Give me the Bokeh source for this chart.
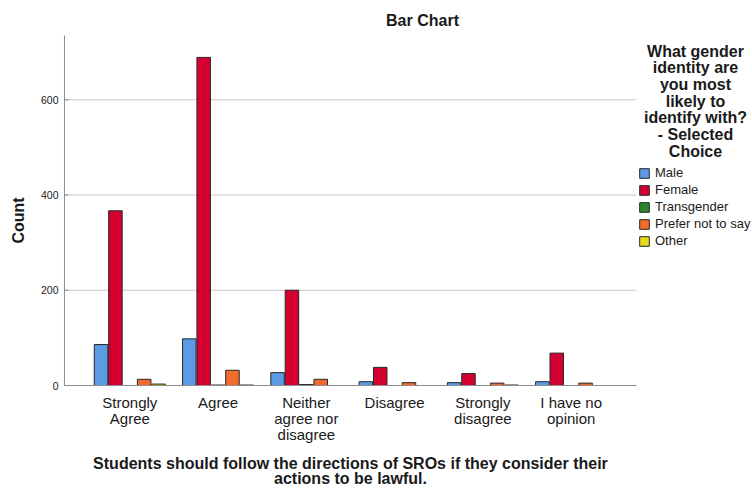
import math
from bokeh.plotting import figure
from bokeh.models import Range1d, Legend, LegendItem, ColumnDataSource
from bokeh.transform import dodge
from bokeh.core.properties import value
from bokeh.embed import file_html
from bokeh.resources import INLINE

# ---- data ----
categories = ["Strongly Agree", "Agree", "Neither agree nor disagree",
              "Disagree", "Strongly disagree", "I have no opinion"]
tick_labels = ["Strongly\nAgree", "Agree", "Neither\nagree nor\ndisagree",
               "Disagree", "Strongly\ndisagree", "I have no\nopinion"]
series_names = ["Male", "Female", "Transgender", "Prefer not to say", "Other"]
male = [86, 98, 27, 8, 6, 8]
female = [367, 689, 200, 38, 25, 68]
transgender = [0, 1, 2, 0, 0, 0]
prefer_not = [13, 32, 13, 6, 5, 5]
other = [3, 1, 0, 0, 1, 0]
y_ticks = [0, 200, 400, 600]
y_tick_labels = ["0", "200", "400", "600"]

colors = ["#5b9be6", "#d50032", "#2a872a", "#f26b2c", "#e6dc1c"]
FONT = "Liberation Sans"
TXT = "#1a1a1a"
AXIS_COL = "#8c8c8c"
GRID_COL = "#c6c6c6"

W, H = 752, 489
XS, XE = -1.4648, 7.0545    # data range across the whole canvas
YS, YE = -218.4, 808.5
X_LEFT, X_RIGHT, Y_TOP = -0.74, 5.74, 735   # plotting region in data units


def X(px):  # canvas pixel -> data x (for placing annotations)
    return XS + px * (XE - XS) / W


def Y(py):  # canvas pixel -> data y
    return YE - py * (YE - YS) / H


xpos = list(range(len(categories)))
source = ColumnDataSource(dict(x=xpos, cat=categories, label=tick_labels,
                               male=male, female=female, transgender=transgender,
                               prefer_not=prefer_not, other=other))
fields = ["male", "female", "transgender", "prefer_not", "other"]

p = figure(width=W, height=H, output_backend="svg", toolbar_location=None,
           title=None, x_axis_location=None, y_axis_location=None,
           x_range=Range1d(XS, XE), y_range=Range1d(YS, YE),
           min_border=0)
p.outline_line_color = None
p.background_fill_color = "white"
p.border_fill_color = "white"
p.xgrid.visible = False
p.ygrid.visible = False

# grid lines
grid_src = ColumnDataSource(dict(y=y_ticks[1:]))
p.segment(x0=X_LEFT, x1=X_RIGHT, y0="y", y1="y", source=grid_src,
          line_color=GRID_COL, line_width=1)

# bars
step = 0.163
bar_w = 0.153
renderers = []
for i, (f, col) in enumerate(zip(fields, colors)):
    r = p.vbar(x=dodge("x", (i - 2) * step, range=p.x_range), top=f, width=bar_w,
               source=source, fill_color=col, line_color="#262626", line_width=1)
    renderers.append(r)

# axis lines
p.segment(x0=[X_LEFT], x1=[X_LEFT], y0=[0], y1=[Y_TOP], line_color=AXIS_COL, line_width=1)
p.segment(x0=[X_LEFT], x1=[X_RIGHT], y0=[0], y1=[0], line_color=AXIS_COL, line_width=1)

# y ticks and labels
tick_src = ColumnDataSource(dict(y=y_ticks, label=y_tick_labels))
tick_len = X(68) - X(64)
p.segment(x0=X_LEFT, x1=X_LEFT + tick_len, y0="y", y1="y", source=tick_src,
          line_color=AXIS_COL, line_width=1)
p.text(x=X(58), y="y", text="label", source=tick_src, text_align="right",
       text_baseline="middle", text_font=value(FONT), text_font_size="10.5px",
       text_color=TXT)

# y axis title
p.text(x=[X(18)], y=[Y(220)], text=["Count"], angle=math.pi / 2, text_align="center",
       text_baseline="middle", text_font=value(FONT), text_font_size="16px",
       text_font_style="bold", text_color=TXT)

# category labels
p.text(x="x", y=Y(393), text="label", source=source, text_align="center",
       text_baseline="top", text_font=value(FONT), text_font_size="15px",
       text_line_height=0.96, text_color=TXT)

# x axis title
p.text(x=[(X_LEFT + X_RIGHT) / 2], y=[Y(454)],
       text=["Students should follow the directions of SROs if they consider their\nactions to be lawful."],
       text_align="center", text_baseline="top", text_font=value(FONT),
       text_font_size="16px", text_font_style="bold", text_line_height=0.94,
       text_color=TXT)

# chart title
p.text(x=[X(422)], y=[Y(20)], text=["Bar Chart"], text_align="center",
       text_baseline="middle", text_font=value(FONT), text_font_size="16px",
       text_font_style="bold", text_color=TXT)

# legend title
p.text(x=[X(695)], y=[Y(42)],
       text=["What gender\nidentity are\nyou most\nlikely to\nidentify with?\n- Selected\nChoice"],
       text_align="center", text_baseline="top", text_font=value(FONT),
       text_font_size="16px", text_font_style="bold", text_line_height=0.985,
       text_color=TXT)

legend = Legend(items=[LegendItem(label=n, renderers=[r]) for n, r in zip(series_names, renderers)],
                location=(638, 241), orientation="vertical",
                glyph_width=12, glyph_height=12, label_height=12, label_standoff=5,
                spacing=2, padding=0, margin=0,
                border_line_color=None, background_fill_alpha=0,
                label_text_font=FONT, label_text_font_size="13px", label_text_color=TXT)
p.add_layout(legend)

open("out.html", "w").write(file_html(p, INLINE))
